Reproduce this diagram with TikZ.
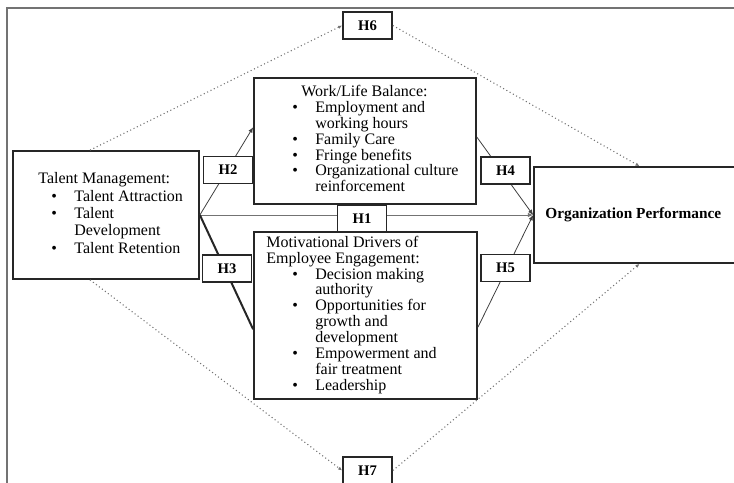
\documentclass[tikz,border=0pt]{standalone}
\usepackage{fontspec}
\setmainfont{Liberation Serif}
\usetikzlibrary{arrows.meta}
\tikzset{
  mainbox/.style={draw=black!85,line width=1.3pt,fill=white,inner sep=0pt},
  hbox/.style={draw=black!85,line width=1.3pt,fill=white,inner sep=0pt,minimum width=36.75pt,minimum height=20.25pt,font=\fontsize{11}{12}\selectfont\bfseries},
  boxtext/.style={anchor=west,inner sep=0pt,font=\fontsize{12}{11.8}\selectfont},
  link/.style={draw=black!75,line width=0.6pt,-{Latex[length=4pt,width=3.4pt]}},
  thicklink/.style={draw=black!85,line width=1.5pt},
  dotlink/.style={draw=black!55,line width=0.8pt,dotted,-{Latex[length=3pt,width=2.6pt]}},
}
\newcommand{\bul}[1][0pt]{\hspace*{#1}\textbullet}
\begin{document}
\begin{tikzpicture}[x=0.75pt,y=-0.75pt]
\useasboundingbox (0,0) rectangle (734,482);
\draw[black!55,line width=1.1pt] (7,8) rectangle (770,520);
\node[mainbox,minimum width=139.5pt,minimum height=96pt] (tm) at (106,215) {};
\node[mainbox,minimum width=166.5pt,minimum height=94.5pt] (wlb) at (365,141) {};
\node[mainbox,minimum width=167.25pt,minimum height=125.25pt] (mde) at (365.5,315.5) {};
\node[mainbox,minimum width=158.25pt,minimum height=72pt] (op) at (639.5,215) {};
\node[boxtext,font=\fontsize{12}{13}\selectfont] (tmtext) at ([xshift=19.5pt]tm.west) {\begin{tabular}{@{}l@{\hspace{13pt}}l@{}}
\multicolumn{2}{@{}l@{}}{Talent Management:}\\
\bul[9.75pt] & Talent Attraction\\
\bul[9.75pt] & Talent\\
 & Development\\
\bul[9.75pt] & Talent Retention
\end{tabular}};
\node[boxtext] (wlbtext) at ([xshift=29.25pt]wlb.west) {\begin{tabular}{@{}l@{\hspace{13pt}}l@{}}
\multicolumn{2}{@{}l@{}}{\hspace*{6.75pt}Work/Life Balance:}\\
\bul & Employment and\\
 & working hours\\
\bul & Family Care\\
\bul & Fringe benefits\\
\bul & Organizational culture\\
 & reinforcement
\end{tabular}};
\node[boxtext] (mdetext) at ([xshift=9.75pt]mde.west) {\begin{tabular}{@{}l@{\hspace{13pt}}l@{}}
\multicolumn{2}{@{}l@{}}{Motivational Drivers of}\\
\multicolumn{2}{@{}l@{}}{Employee Engagement:}\\
\bul[19.5pt] & Decision making\\
 & authority\\
\bul[19.5pt] & Opportunities for\\
 & growth and\\
 & development\\
\bul[19.5pt] & Empowerment and\\
 & fair treatment\\
\bul[19.5pt] & Leadership
\end{tabular}};
\node[boxtext,font=\fontsize{11.5}{13}\selectfont\bfseries] (optext) at ([xshift=9pt]op.west) {Organization Performance};
\node[hbox] (h6) at (367.5,25.5) {H6};
\node[hbox] (h7) at (367.5,470.5) {H7};
\draw[dotlink] ([xshift=-12pt]tm.north) -- (h6.west);
\draw[dotlink] (h6.east) -- (op.north);
\draw[dotlink] ([xshift=-12pt]tm.south) -- (h7.west);
\draw[dotlink] (h7.east) -- (op.south);
\draw[link,draw=black!55] (tm.east) -- (op.west);
\draw[link] (tm.east) -- (wlb.173);
\draw[thicklink] (tm.east) -- (mde.187);
\draw[link] (wlb.2) -- (op.west);
\draw[link] (mde.354) -- (op.west);
\node[hbox] (h1) at (362,218.5) {H1};
\node[hbox] (h2) at (228,170) {H2};
\node[hbox] (h3) at (227,268.5) {H3};
\node[hbox] (h4) at (505.5,170.5) {H4};
\node[hbox] (h5) at (505.5,268) {H5};
\end{tikzpicture}
\end{document}
